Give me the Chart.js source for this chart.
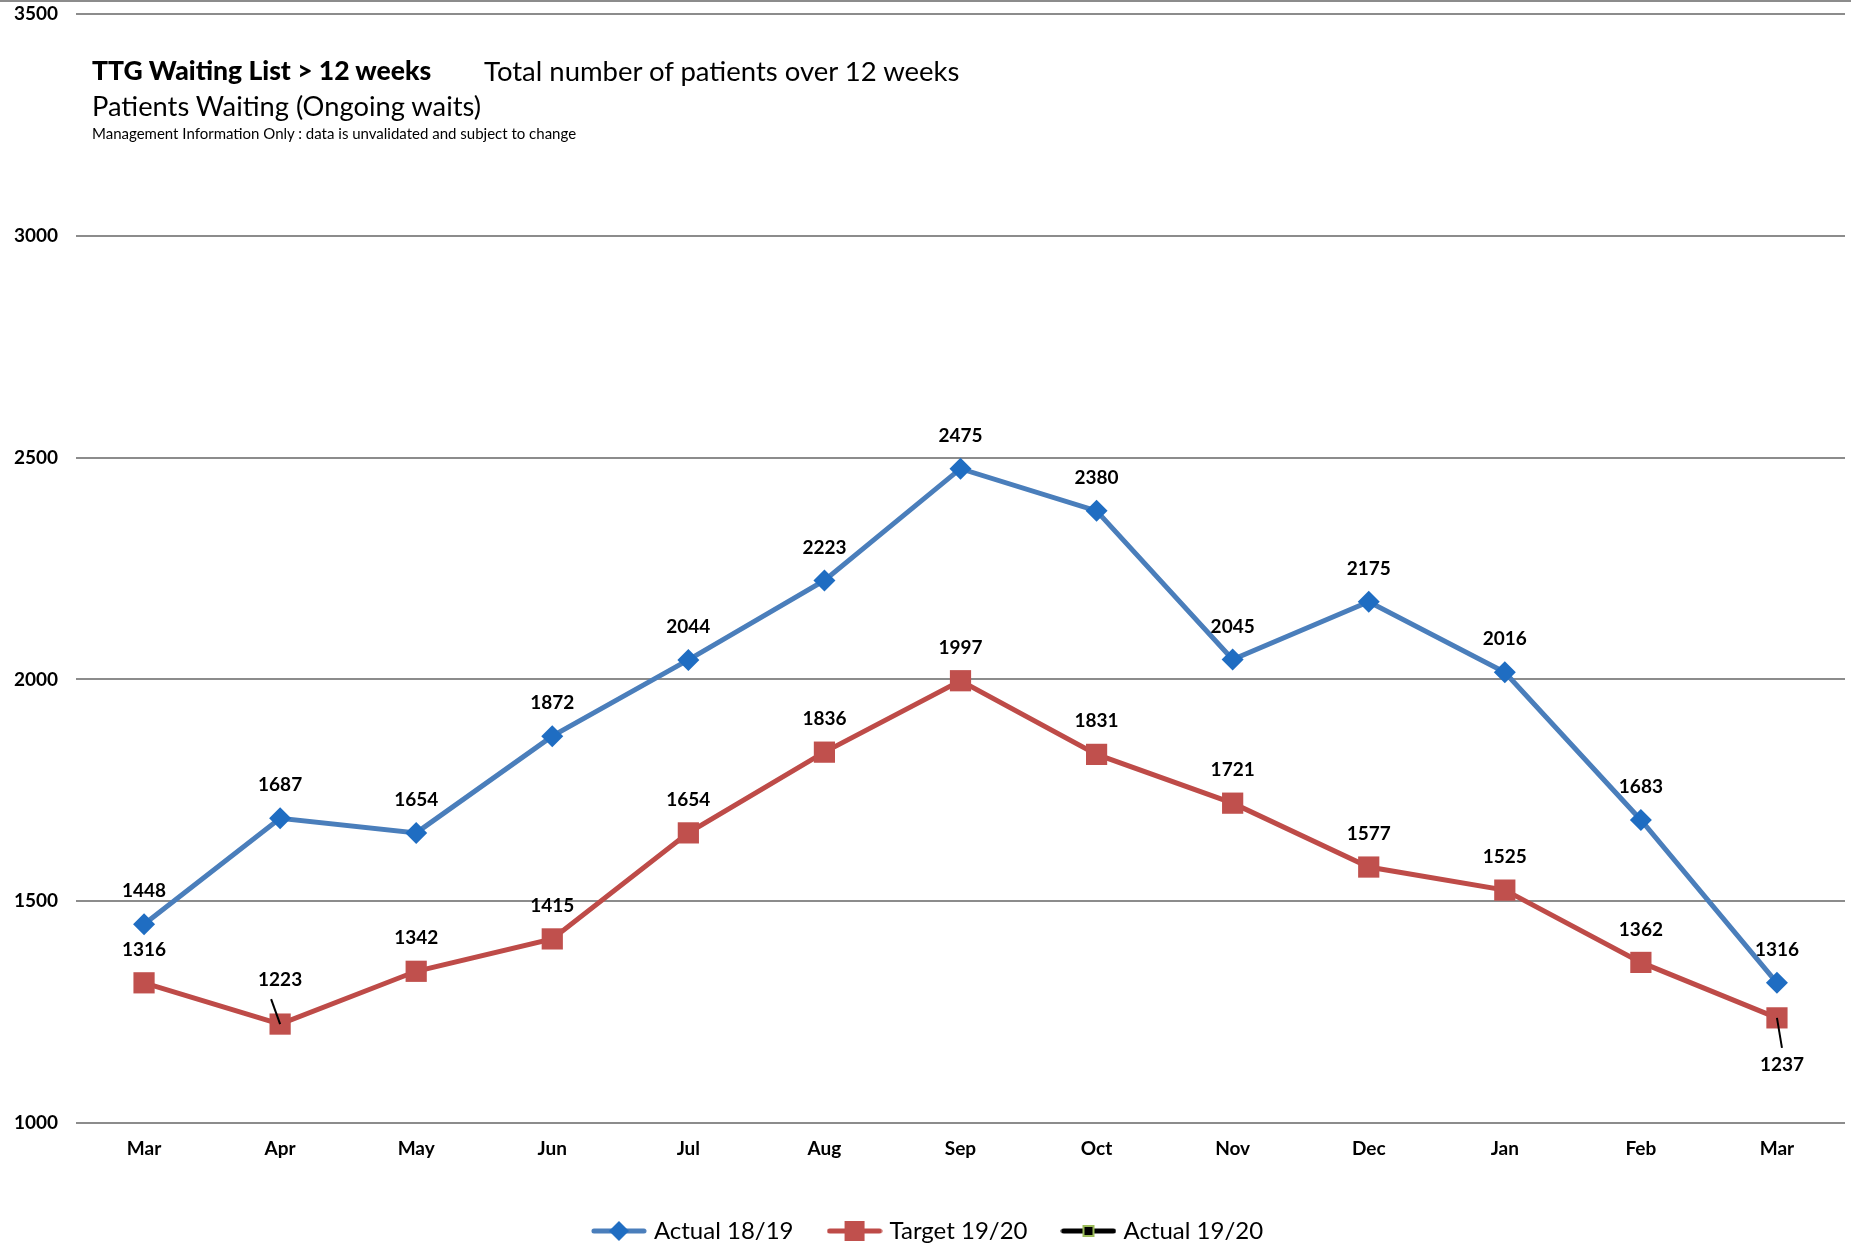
<!DOCTYPE html>
<html lang="en">
<head>
    <meta charset="UTF-8" />
    <title>TTG Waiting List > 12 weeks</title>
    <script src="https://cdn.jsdelivr.net/npm/chart.js"></script>
    <style>
        body { margin: 0; background: #fff; font-family: Lato, sans-serif; }
        #wrap { position: relative; width: 1851px; height: 1246px; }
        #topline { position: absolute; left: 0; top: 0; width: 1851px; height: 2px; background: #8c8c8c; }
        .txt { position: absolute; line-height: 1; color: #000; white-space: nowrap; }
    </style>
</head>
<body>
<div id="wrap">
    <canvas id="chart" width="1851" height="1246"></canvas>
    <div id="topline"></div>
    <div class="txt" style="left:92px;top:57px;font-size:26.5px;font-weight:900;">TTG Waiting List &gt; 12 weeks</div>
    <div class="txt" style="left:484px;top:57px;font-size:27.5px;">Total number of patients over 12 weeks</div>
    <div class="txt" style="left:92px;top:92px;font-size:27.3px;">Patients Waiting (Ongoing waits)</div>
    <div class="txt" style="left:92px;top:126px;font-size:15px;">Management Information Only : data is unvalidated and subject to change</div>
</div>

<script>
    // data
    const months = ["Mar", "Apr", "May", "Jun", "Jul", "Aug", "Sep", "Oct", "Nov", "Dec", "Jan", "Feb", "Mar"];
    const actual1819 = [1448, 1687, 1654, 1872, 2044, 2223, 2475, 2380, 2045, 2175, 2016, 1683, 1316];
    const target1920 = [1316, 1223, 1342, 1415, 1654, 1836, 1997, 1831, 1721, 1577, 1525, 1362, 1237];
    const actual1920 = [];

    const blueLine = "#4A7EBB", bluePoint = "#1F6DC2";
    const redLine = "#BE4B48", redPoint = "#C0504D";

    Chart.defaults.font.family = "Lato, sans-serif";
    Chart.defaults.color = "#000";

    // legend icons: line with marker in the middle
    function makeIcon(lineColor, drawMarker) {
        const c = document.createElement("canvas");
        c.width = 56; c.height = 24;
        const g = c.getContext("2d");
        g.strokeStyle = lineColor;
        g.lineWidth = 5;
        g.lineCap = "round";
        g.beginPath(); g.moveTo(3, 12); g.lineTo(53, 12); g.stroke();
        drawMarker(g);
        return c;
    }
    const legendIcons = [
        makeIcon(blueLine, g => {
            g.fillStyle = bluePoint;
            g.beginPath(); g.moveTo(28, 2); g.lineTo(38, 12); g.lineTo(28, 22); g.lineTo(18, 12); g.closePath(); g.fill();
        }),
        makeIcon(redLine, g => {
            g.fillStyle = redPoint;
            g.fillRect(18, 2, 20, 20);
        }),
        makeIcon("#000", g => {
            g.fillStyle = "#000";
            g.fillRect(23, 7, 10, 10);
            g.strokeStyle = "#9BBB59"; g.lineWidth = 2;
            g.strokeRect(23, 7, 10, 10);
        })
    ];

    // value labels, a few need leader lines
    const dataLabels = {
        id: "dataLabels",
        afterDatasetsDraw(chart) {
            const ctx = chart.ctx;
            ctx.save();
            ctx.font = "bold 19px Lato, sans-serif";
            ctx.fillStyle = "#000";
            ctx.textAlign = "center";
            ctx.textBaseline = "middle";
            [0, 1].forEach(di => {
                const meta = chart.getDatasetMeta(di);
                const values = chart.data.datasets[di].data;
                meta.data.forEach((pt, i) => {
                    let dx = 0, dy = -33;
                    if (di === 1 && i === 1) {
                        dy = -44;
                        ctx.strokeStyle = "#000"; ctx.lineWidth = 2;
                        ctx.beginPath(); ctx.moveTo(pt.x - 9, pt.y - 25); ctx.lineTo(pt.x, pt.y); ctx.stroke();
                    }
                    if (di === 1 && i === values.length - 1) {
                        dx = 5; dy = 47;
                        ctx.strokeStyle = "#000"; ctx.lineWidth = 2;
                        ctx.beginPath(); ctx.moveTo(pt.x, pt.y); ctx.lineTo(pt.x + 5, pt.y + 30); ctx.stroke();
                    }
                    ctx.fillText(values[i], pt.x + dx, pt.y + dy);
                });
            });
            ctx.restore();
        }
    };

    new Chart(document.getElementById("chart"), {
        type: "line",
        data: {
            labels: months,
            datasets: [
                {
                    label: "Actual 18/19",
                    data: actual1819,
                    borderColor: blueLine,
                    borderWidth: 5,
                    pointStyle: "rectRot",
                    pointRadius: 11,
                    pointBackgroundColor: bluePoint,
                    pointBorderColor: bluePoint,
                    pointBorderWidth: 0,
                    tension: 0
                },
                {
                    label: "Target 19/20",
                    data: target1920,
                    borderColor: redLine,
                    borderWidth: 5,
                    pointStyle: "rect",
                    pointRadius: 15,
                    pointBackgroundColor: redPoint,
                    pointBorderColor: redPoint,
                    pointBorderWidth: 0,
                    tension: 0
                },
                {
                    label: "Actual 19/20",
                    data: actual1920,
                    borderColor: "#000",
                    borderWidth: 5,
                    pointStyle: "rect",
                    pointBackgroundColor: "#000",
                    pointBorderColor: "#9BBB59"
                }
            ]
        },
        options: {
            responsive: false,
            animation: false,
            layout: { autoPadding: false, padding: { left: 14, right: 6, top: 14, bottom: -7 } },
            scales: {
                x: {
                    offset: true,
                    grid: { display: false, offset: true, drawTicks: true, tickLength: 14 },
                    border: { display: false },
                    ticks: { font: { size: 19, weight: "bold" }, padding: 0 },
                    afterFit: s => { s.height = 58; s.paddingLeft = 0; s.paddingRight = 0; }
                },
                y: {
                    min: 1000,
                    max: 3500,
                    ticks: {
                        stepSize: 500,
                        font: { size: 19, weight: "bold" },
                        padding: 0,
                        crossAlign: "far",
                        callback: v => String(v)
                    },
                    grid: { color: "#8c8c8c", lineWidth: 2, drawTicks: false },
                    border: { display: false },
                    afterFit: s => { s.width = 62; }
                }
            },
            plugins: {
                tooltip: { enabled: false },
                legend: {
                    position: "bottom",
                    labels: {
                        usePointStyle: true,
                        pointStyleWidth: 46,
                        padding: 38,
                        font: { size: 24 },
                        color: "#000",
                        generateLabels: chart =>
                            Chart.defaults.plugins.legend.labels.generateLabels(chart)
                                .map((l, i) => ({ ...l, pointStyle: legendIcons[i] }))
                    }
                }
            }
        },
        plugins: [dataLabels]
    });
</script>
</body>
</html>
